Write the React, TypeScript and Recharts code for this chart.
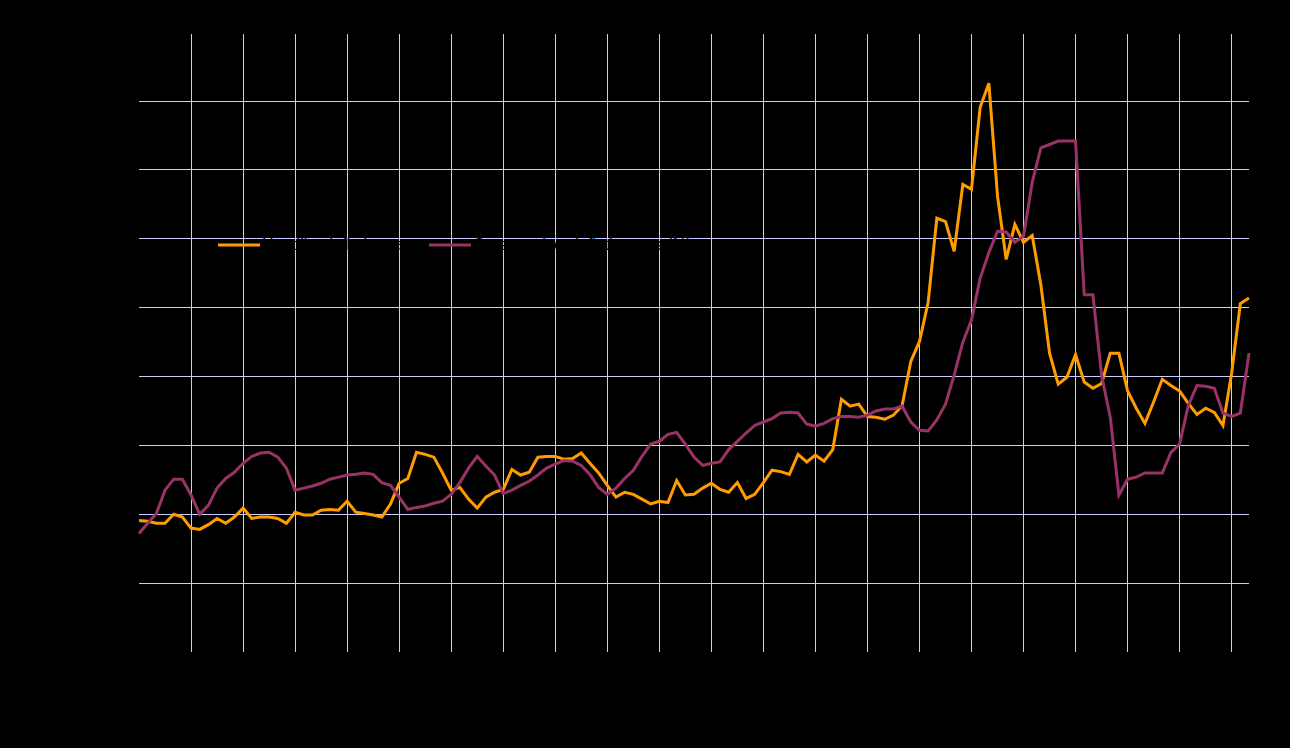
import React from "react";
import { LineChart, Line, XAxis, YAxis, CartesianGrid, Legend } from "recharts";

const seriesNames = ["Headline inflation rate", "Core services inflation rate (%)"];

const orangeValues = [
  -0.09, -0.1, -0.13, -0.13, 0.0, -0.04, -0.2, -0.22, -0.15, -0.06,
  -0.13, -0.04, 0.09, -0.06, -0.04, -0.04, -0.06, -0.13, 0.03, -0.01,
  -0.01, 0.06, 0.07, 0.06, 0.19, 0.03, 0.01, -0.01, -0.04, 0.15,
  0.45, 0.52, 0.9, 0.87, 0.83, 0.6, 0.35, 0.39, 0.22, 0.09,
  0.25, 0.32, 0.36, 0.65, 0.57, 0.61, 0.83, 0.84, 0.84, 0.8,
  0.81, 0.89, 0.74, 0.6, 0.42, 0.25, 0.32, 0.29, 0.22, 0.15,
  0.19, 0.17, 0.49, 0.28, 0.29, 0.38, 0.45, 0.36, 0.32, 0.46,
  0.23, 0.29, 0.46, 0.64, 0.62, 0.58, 0.87, 0.76, 0.86, 0.77,
  0.94, 1.67, 1.57, 1.6, 1.42, 1.41, 1.38, 1.44, 1.58, 2.22,
  2.51, 3.08, 4.3, 4.25, 3.82, 4.79, 4.72, 5.91, 6.26, 4.62,
  3.7, 4.21, 3.95, 4.05, 3.33, 2.34, 1.89, 1.99, 2.32, 1.92,
  1.83, 1.9, 2.34, 2.34, 1.79, 1.54, 1.32, 1.63, 1.96, 1.87,
  1.79, 1.61, 1.45, 1.54, 1.48, 1.29, 2.05, 3.06, 3.14,
];

const purpleValues = [
  -0.28, -0.13, 0.01, 0.35, 0.51, 0.51, 0.28, 0.0, 0.13, 0.38,
  0.52, 0.61, 0.74, 0.84, 0.89, 0.9, 0.83, 0.67, 0.35, 0.38,
  0.41, 0.45, 0.51, 0.54, 0.57, 0.58, 0.6, 0.58, 0.46, 0.42,
  0.25, 0.07, 0.1, 0.12, 0.16, 0.19, 0.29, 0.46, 0.67, 0.84,
  0.7, 0.57, 0.3, 0.35, 0.42, 0.48, 0.57, 0.67, 0.73, 0.78,
  0.77, 0.71, 0.58, 0.39, 0.29, 0.38, 0.52, 0.64, 0.84, 1.02,
  1.06, 1.16, 1.19, 1.02, 0.83, 0.71, 0.74, 0.76, 0.94, 1.06,
  1.18, 1.29, 1.34, 1.39, 1.47, 1.48, 1.47, 1.31, 1.28, 1.32,
  1.39, 1.42, 1.42, 1.41, 1.44, 1.5, 1.53, 1.53, 1.57, 1.34,
  1.22, 1.21, 1.37, 1.6, 2.02, 2.5, 2.82, 3.43, 3.8, 4.11,
  4.1, 3.95, 4.04, 4.82, 5.32, 5.37, 5.42, 5.42, 5.42, 3.19,
  3.19, 2.02, 1.41, 0.28, 0.51, 0.54, 0.6, 0.6, 0.6, 0.9,
  1.02, 1.58, 1.87, 1.86, 1.83, 1.47, 1.42, 1.47, 2.34,
];

const xTicks = [6, 12, 18, 24, 30, 36, 42, 48, 54, 60, 66, 72, 78, 84, 90, 96, 102, 108, 114, 120, 126];
const yTicks = [-1, 0, 1, 2, 3, 4, 5, 6];

const colors = ["#ff9c00", "#993366"];
const gridColor = "#ccccff";

const data = orangeValues.map((v, i) => ({ i, a: v, b: purpleValues[i] }));

const renderLegend = () => (
  <div style={{ display: "flex", alignItems: "center", fontFamily: "Liberation Sans, Arial, sans-serif", fontSize: 16, color: "#000", height: 18, width: 520, whiteSpace: "nowrap" }}>
    {seriesNames.map((name, idx) => (
      <div key={idx} style={{ display: "flex", alignItems: "center", flexShrink: 0, width: idx === 0 ? 211 : 300, height: 18 }}>
        <svg width={42} height={6} style={{ display: "block", flexShrink: 0 }}>
          <line x1={0} y1={3} x2={42} y2={3} stroke={colors[idx]} strokeWidth={3} />
        </svg>
        <span style={{ marginLeft: 2, color: "#000", lineHeight: "18px", whiteSpace: "nowrap" }}>{name}</span>
      </div>
    ))}
  </div>
);

export default function App() {
  return (
    <div style={{ position: "fixed", left: 0, top: 0, width: 1290, height: 748, background: "#000" }}>
      <LineChart
        width={1290}
        height={748}
        data={data}
        margin={{ top: 34, right: 41, left: 79, bottom: 66 }}
      >
        <CartesianGrid stroke={gridColor} strokeWidth={1} syncWithTicks shapeRendering="crispEdges" />
        <XAxis
          type="number"
          dataKey="i"
          domain={[0, 128]}
          ticks={xTicks}
          height={30}
          axisLine={false}
          tickLine={false}
          tick={{ fill: "#000", fontSize: 14 }}
        />
        <YAxis
          type="number"
          domain={[-2, 6.975]}
          ticks={yTicks}
          allowDataOverflow
          width={60}
          axisLine={false}
          tickLine={false}
          tick={{ fill: "#000", fontSize: 14 }}
        />
        <Legend
          content={renderLegend}
          wrapperStyle={{ position: "absolute", left: 218, top: 236, width: 520, height: 0, overflow: "visible" }}
        />
        <Line type="linear" dataKey="a" name={seriesNames[0]} stroke={colors[0]} strokeWidth={3} dot={false} isAnimationActive={false} />
        <Line type="linear" dataKey="b" name={seriesNames[1]} stroke={colors[1]} strokeWidth={3} dot={false} isAnimationActive={false} />
      </LineChart>
    </div>
  );
}
